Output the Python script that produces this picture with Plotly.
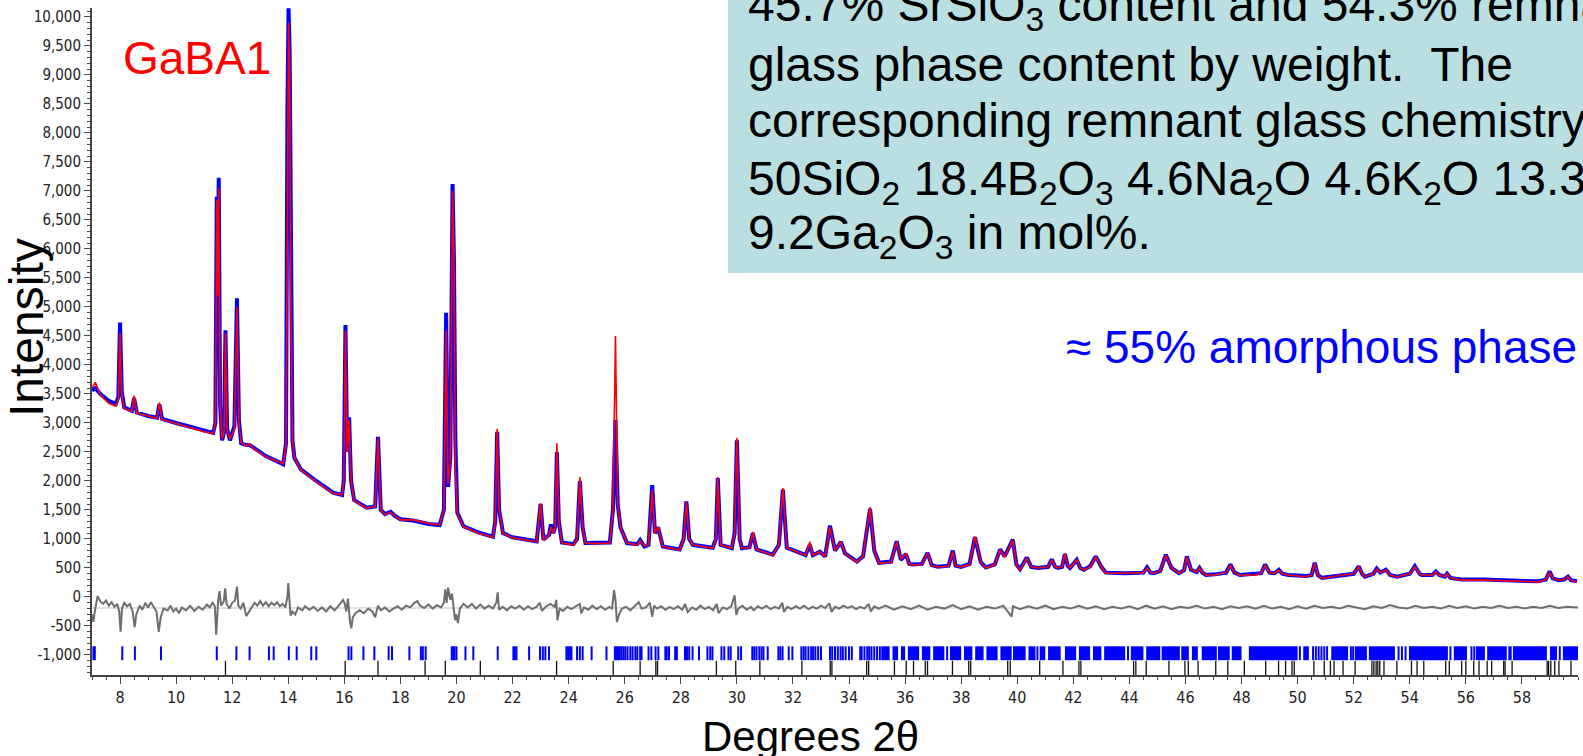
import plotly.graph_objects as go

# ---------------- data ----------------
# Rietveld profile: 2-theta positions, calculated (red) and observed (blue) intensities
two_theta = [
    7.00, 7.12, 7.30, 7.60, 7.85, 7.94, 8.00, 8.06, 8.15, 8.42, 8.50, 8.60, 9.00, 9.32, 9.40, 9.50,
    10.00, 10.50, 11.00, 11.32, 11.40, 11.45, 11.48, 11.52, 11.57, 11.64, 11.71, 11.76, 11.82, 11.92,
    12.08, 12.17, 12.24, 12.32, 12.50, 12.62, 12.75,
    13.20, 13.82, 13.92, 13.97, 14.01, 14.05, 14.09, 14.15, 14.22, 14.45, 15.00, 15.60, 15.92, 15.98,
    16.04, 16.10, 16.17, 16.24, 16.35, 16.80, 17.10, 17.20, 17.30, 17.45, 17.65, 17.80, 18.00, 18.45,
    19.00, 19.40, 19.55, 19.63, 19.70, 19.78, 19.86, 19.91, 19.96, 20.03, 20.25, 20.80,
    21.30, 21.38, 21.45, 21.52, 21.66, 22.00, 22.86, 23.00, 23.10, 23.30, 23.37, 23.45, 23.52, 23.58,
    23.65, 23.76, 24.17, 24.30, 24.40, 24.50, 24.60, 25.00, 25.47, 25.58, 25.67, 25.75, 25.85, 26.08,
    26.45, 26.55, 26.70, 26.85, 26.98, 27.08, 27.19, 27.36, 27.96, 28.10, 28.20, 28.30, 28.43,
    29.14, 29.25, 29.32, 29.42, 29.82, 29.92, 30.00, 30.10, 30.18, 30.45, 30.57, 30.70, 31.28, 31.50,
    31.64, 31.78, 32.45, 32.60, 32.71, 32.96, 33.15, 33.32, 33.50, 33.71, 33.86, 34.28, 34.50, 34.75,
    34.90, 35.07,
    35.50, 35.70, 35.85, 36.03, 36.15, 36.28, 36.60, 36.80, 36.95, 37.17, 37.55, 37.70, 37.80, 37.99,
    38.30, 38.49, 38.70, 38.88, 39.20, 39.39, 39.55, 39.84, 39.97, 40.10, 40.34, 40.50, 40.74, 41.10,
    41.23, 41.35, 41.45, 41.60, 41.70, 41.80, 41.88, 42.12, 42.25, 42.37, 42.60, 42.80, 43.00, 43.16,
    43.84, 44.50, 44.63, 44.75, 44.87, 45.10, 45.30, 45.50, 45.77, 45.95, 46.05, 46.20, 46.40, 46.50,
    46.60, 46.73, 47.05, 47.45, 47.60, 47.75, 47.94, 48.51, 48.70, 48.84, 49.00, 49.18, 49.33, 49.45,
    49.67, 50.30, 50.50, 50.61, 50.72, 50.87, 51.60, 52.00, 52.18, 52.30, 52.40, 52.70, 52.82, 52.95,
    53.15, 53.30, 53.55, 54.00, 54.18, 54.35, 54.43, 54.80, 54.93, 55.05, 55.25, 55.33, 55.45, 55.83,
    56.64, 57.44, 58.57, 58.85, 58.99, 59.10, 59.32, 59.50, 59.64, 59.75, 59.96,
]
calc_intensity = [
    3600, 3700, 3480, 3340, 3290, 3420, 4550, 3500, 3250, 3200, 3470, 3170, 3120, 3080, 3350, 3060,
    2990, 2920, 2850, 2820, 3000, 6850, 5200, 7050, 3300, 2720, 2850, 4550, 2900, 2720,
    2900, 5000, 3000, 2670, 2600, 2640, 2560,
    2420, 2300, 2600, 8300, 9900, 9100, 5300, 2700, 2400, 2190, 1990, 1790, 1760, 2000,
    4600, 2500, 3050, 2000, 1660, 1530, 1560, 2750, 1500, 1420, 1460, 1400, 1330, 1330,
    1270, 1240, 1500, 4600, 1950, 2300, 7000, 5900, 2200, 1440, 1210, 1100,
    1030, 1300, 2900, 1500, 1100, 1020, 950, 1620, 980, 1060, 1210, 1100, 1200, 2650,
    1300, 930, 900, 1000, 2070, 1200, 930, 920, 930, 1500, 4500, 1600, 1200, 930,
    900, 970, 880, 900, 1850, 1100, 1210, 870, 810, 1000, 1640, 1000, 900,
    840, 1000, 2070, 900, 840, 1100, 2740, 1000, 840, 850, 1120, 820, 720, 900,
    1880, 850, 720, 950, 720, 780, 690, 1210, 800, 950, 750, 600, 700, 1550,
    800, 580,
    600, 955, 650, 755, 560, 550, 560, 755, 540, 520, 530, 780, 540, 520,
    560, 1040, 600, 500, 560, 810, 690, 980, 560, 465, 670, 520, 500, 520,
    640, 520, 500, 520, 750, 540, 500, 640, 500, 465, 520, 690, 520, 410,
    410, 420, 500, 420, 410, 450, 720, 500, 410, 460, 690, 470, 430, 500,
    420, 380, 380, 420, 550, 420, 380, 380, 410, 550, 420, 410, 465, 400,
    380, 350, 380, 580, 380, 320, 380, 400, 520, 400, 350, 400, 480, 420,
    465, 380, 350, 400, 520, 400, 380, 380, 430, 380, 350, 400, 330, 290,
    290, 275, 260, 300, 430, 320, 290, 300, 350, 290, 260,
]
obs_intensity = [
    3560, 3600, 3500, 3380, 3330, 3450, 4730, 3550, 3270, 3210, 3430, 3180, 3120, 3090, 3320, 3070,
    3000, 2930, 2860, 2830, 3000, 6900, 4800, 7230, 3300, 2700, 2850, 4600, 2900, 2700,
    2950, 5150, 3050, 2650, 2620, 2620, 2580,
    2430, 2290, 2650, 8400, 10150, 9400, 5400, 2700, 2400, 2200, 2000, 1800, 1760, 2000,
    4690, 2500, 3100, 2000, 1670, 1540, 1560, 2760, 1500, 1430, 1470, 1400, 1340, 1320,
    1260, 1240, 1500, 4900, 1900, 2400, 7120, 5800, 2700, 1450, 1220, 1110,
    1040, 1300, 2850, 1500, 1100, 1030, 960, 1600, 990, 1070, 1250, 1100, 1200, 2500,
    1300, 940, 910, 1000, 2000, 1200, 930, 930, 940, 1500, 3050, 1600, 1200, 930,
    910, 980, 870, 900, 1930, 1100, 1200, 870, 820, 1000, 1650, 1000, 900,
    850, 1000, 2050, 900, 840, 1100, 2700, 1000, 840, 860, 1100, 820, 730, 900,
    1850, 850, 720, 900, 720, 780, 700, 1230, 800, 950, 750, 610, 700, 1520,
    800, 590,
    610, 960, 640, 740, 570, 560, 570, 760, 550, 520, 540, 800, 540, 520,
    570, 1030, 600, 510, 560, 820, 700, 990, 560, 480, 680, 520, 500, 520,
    650, 520, 500, 520, 740, 540, 500, 640, 500, 470, 530, 700, 520, 420,
    410, 420, 510, 420, 410, 450, 730, 500, 410, 460, 700, 470, 430, 500,
    420, 380, 390, 420, 560, 420, 380, 390, 410, 560, 420, 410, 470, 400,
    380, 360, 380, 590, 380, 330, 380, 400, 530, 400, 350, 400, 490, 420,
    470, 380, 350, 400, 530, 400, 380, 380, 440, 380, 350, 400, 330, 300,
    300, 285, 270, 300, 440, 320, 290, 300, 350, 290, 270,
]

# Difference curve (obs - calc, shifted) and its reference level
diff_theta = [
    7.00, 7.05, 7.10, 7.20, 7.30, 7.40, 7.50, 7.60, 7.70, 7.80, 7.90, 7.97, 8.02, 8.07, 8.15, 8.25,
    8.35, 8.45, 8.52, 8.58, 8.70, 8.80, 8.90, 9.00, 9.10, 9.20, 9.30, 9.38, 9.45, 9.55, 9.70, 9.80,
    9.90, 10.00, 10.10, 10.20, 10.35, 10.50, 10.65, 10.80, 10.95, 11.10, 11.20, 11.30, 11.38, 11.43,
    11.47, 11.50, 11.55, 11.60, 11.70, 11.75, 11.80, 11.90, 12.00, 12.10, 12.17, 12.22, 12.30, 12.40,
    12.50, 12.60, 12.70, 12.80, 12.90, 13.00, 13.10, 13.20, 13.30, 13.40, 13.50, 13.60, 13.70, 13.80,
    13.90, 13.97, 14.00, 14.04, 14.08, 14.15, 14.25, 14.35, 14.50, 14.60, 14.75, 14.90, 15.05, 15.20,
    15.35, 15.50, 15.65, 15.80, 15.95, 16.02, 16.07, 16.13, 16.20, 16.25, 16.30, 16.40, 16.55, 16.70,
    16.85, 17.00, 17.10, 17.20, 17.30, 17.45, 17.60, 17.75, 17.90, 18.05, 18.20, 18.35, 18.50, 18.60,
    18.70, 18.85, 19.00, 19.15, 19.30, 19.45, 19.55, 19.60, 19.65, 19.70, 19.78, 19.84, 19.90, 19.95,
    20.00, 20.05, 20.12, 20.25, 20.40, 20.55, 20.70, 20.85, 21.00, 21.15, 21.30, 21.42, 21.47, 21.52,
    21.65, 21.80, 21.95, 22.10, 22.25, 22.40, 22.55, 22.70, 22.85, 22.97, 23.05, 23.20, 23.35, 23.50,
    23.56, 23.60, 23.68, 23.80, 23.95, 24.10, 24.25, 24.40, 24.45, 24.55, 24.70, 24.85, 25.00, 25.15,
    25.30, 25.45, 25.55, 25.62, 25.67, 25.72, 25.80, 25.90, 26.05, 26.20, 26.35, 26.50, 26.60, 26.75,
    26.90, 26.98, 27.05, 27.15, 27.30, 27.45, 27.60, 27.75, 27.90, 28.05, 28.15, 28.25, 28.40, 28.55,
    28.70, 28.85, 29.00, 29.15, 29.28, 29.35, 29.50, 29.65, 29.80, 29.92, 29.98, 30.05, 30.20, 30.35,
    30.50, 30.60, 30.75, 30.90, 31.05, 31.20, 31.35, 31.50, 31.62, 31.68, 31.80, 31.95, 32.10, 32.25,
    32.40, 32.55, 32.70, 32.85, 33.00, 33.15, 33.30, 33.38, 33.50, 33.65, 33.80, 33.95, 34.10, 34.25,
    34.40, 34.55, 34.70, 34.78, 34.90, 35.05,
    35.30, 35.60, 35.90, 36.20, 36.50, 36.80, 37.10, 37.40, 37.70, 38.00, 38.30, 38.60, 38.90, 39.20,
    39.50, 39.80, 39.85, 40.10, 40.40, 40.70, 41.00, 41.30, 41.60, 41.90, 42.20, 42.50, 42.80, 43.10,
    43.40, 43.70, 44.00, 44.30, 44.60, 44.90, 45.20, 45.50, 45.80, 46.10, 46.40, 46.70, 47.00, 47.30,
    47.60, 47.90, 48.20, 48.50, 48.80, 49.10, 49.40, 49.70, 50.00, 50.30, 50.60, 50.90, 51.20, 51.50,
    51.80, 52.10, 52.40, 52.70, 53.00, 53.30, 53.60, 53.90, 54.20, 54.50, 54.80, 55.10, 55.40, 55.70,
    56.00, 56.30, 56.60, 56.90, 57.20, 57.50, 57.80, 58.10, 58.40, 58.70, 59.00, 59.30, 59.60, 60.00,
]
diff_intensity = [
    -300, -430, -250, 20, -80, -120, -60, -150, -90, -170, -120, -250, -600, -200, -100, -160,
    -120, -250, -520, -300, -150, -220, -100, -180, -90, -170, -250, -600, -350, -200, -230, -150,
    -250, -200, -280, -180, -230, -150, -240, -170, -220, -130, -180, -100, -160, -650,
    -300, -50, 100, -150, -80, 150, -120, -200, -100, -60, 180, -150, -200, -100,
    -330, -250, -160, -100, -150, -70, -150, -90, -160, -100, -140, -90, -160, -120,
    -180, 10, 240, -50, -320, -250, -300, -180, -230, -160, -220, -170, -240, -180,
    -250, -160, -230, -150, -50, -120, -250, -30, -420, -540, -350, -280, -230, -280,
    -200, -250, -350, -150, -230, -180, -250, -200, -160, -220, -150, -180, -100, -70,
    -150, -190, -130, -200, -140, -180, -100, 130, -100, 160, -50, 60, -200, -400,
    -300, -450, -200, -120, -180, -120, -200, -130, -200, -150, -200, -100, 80, -220,
    -170, -230, -160, -200, -150, -220, -160, -210, -170, -100, -240, -160, -120, -170,
    -50, -400, -200, -240, -170, -210, -160, -120, -280, -180, -220, -150, -210, -160,
    -220, -170, -200, 120, -50, -430, -300, -200, -170, -230, -160, -90, -200, -180,
    -100, -340, -150, -200, -160, -220, -170, -210, -160, -220, -120, -260, -180, -220,
    -150, -210, -170, -230, -120, -280, -180, -210, -160, 30, -310, -200, -150, -220,
    -170, -230, -160, -200, -150, -210, -170, -200, -100, -260, -170, -210, -160, -200,
    -150, -210, -170, -200, -150, -190, -110, -260, -170, -200, -150, -190, -160, -210,
    -170, -200, -120, -250, -160, -200,
    -150, -220, -160, -210, -150, -220, -170, -200, -140, -210, -160, -220, -170, -200,
    -150, -340, -160, -210, -160, -200, -150, -210, -170, -200, -150, -200, -160, -210,
    -170, -200, -160, -210, -150, -200, -160, -210, -170, -190, -150, -200, -170, -210,
    -160, -190, -160, -200, -150, -200, -170, -210, -160, -200, -150, -190, -170, -200,
    -150, -180, -210, -160, -190, -140, -180, -200, -150, -190, -170, -200, -150, -190,
    -160, -200, -170, -190, -150, -190, -170, -200, -170, -190, -150, -190, -170, -180,
]
diff_reference = -190

# Reflection markers: phase 1 (blue) single ticks and solid runs, phase 2 (black) ticks
phase1_ticks = [
    7.05, 7.10, 8.08, 8.53, 9.46, 11.45, 12.15, 12.62, 13.31, 13.48, 14.02, 14.30, 14.82, 15.00,
    16.15, 16.25, 16.68, 17.07, 17.58, 17.70, 18.32, 18.73, 18.80, 18.90, 19.83, 19.88, 19.93, 20.00,
    20.32, 20.60, 21.47, 22.03, 22.08, 22.14, 22.59, 22.98, 23.08, 23.17, 23.30, 23.92, 23.98, 24.05,
    24.10, 24.30, 24.40, 24.50, 24.82, 25.35, 25.65, 25.70, 25.76, 25.82, 25.88, 25.95, 26.02, 26.10,
    26.20, 26.28, 26.38, 26.45, 26.55, 26.60, 26.85, 26.95, 27.10, 27.20, 27.45, 27.50, 27.58, 27.80,
    27.86, 28.15, 28.22, 28.30, 28.42, 28.65, 28.95, 29.05, 29.13, 29.45, 29.55, 29.70, 29.78, 30.05,
    30.15, 30.55, 30.62, 30.70, 30.80, 30.88, 30.95, 31.10, 31.48, 31.55, 31.63, 31.85, 31.98, 32.30,
    32.38, 32.45, 32.55, 32.65, 32.72, 32.80, 32.90, 33.00, 33.32, 33.40, 33.50, 33.60, 33.70, 33.78,
    33.88, 34.00, 34.10, 34.40, 34.45, 34.55, 34.65, 34.72, 34.80, 34.90, 35.00, 35.10, 37.50, 40.72,
    43.95, 50.08, 50.55, 50.65, 50.75, 50.85, 50.95, 51.05, 51.90, 51.98, 53.60, 53.72, 53.85, 55.45,
    56.20, 56.30, 57.55, 57.60, 59.35,
]
phase1_run_start = [
    35.15, 35.55, 35.85, 36.10, 36.60, 37.00, 37.60, 38.10, 38.50, 38.90, 39.40, 39.85, 40.40, 40.80,
    41.10, 41.70, 42.20, 42.70, 43.10, 44.05, 44.60, 45.15, 45.85, 46.23, 46.58, 47.16, 47.65, 48.26,
    50.20, 51.20, 52.04, 52.54, 53.97, 55.57, 56.36, 56.76, 57.68, 59.00, 59.46,
]
phase1_run_end = [
    35.45, 35.75, 36.00, 36.50, 36.90, 37.40, 38.00, 38.40, 38.80, 39.30, 39.80, 40.30, 40.65, 41.00,
    41.55, 42.10, 42.60, 43.00, 43.85, 44.50, 45.10, 45.80, 46.12, 46.44, 47.12, 47.58, 48.00, 50.00,
    50.40, 51.80, 52.47, 53.47, 55.36, 56.04, 56.68, 57.46, 58.89, 59.25, 60.00,
]
phase2_ticks = [
    11.76, 16.03, 17.20, 18.88, 19.60, 20.85, 23.57, 25.59, 26.55, 27.11, 27.17, 29.27, 29.96, 30.82,
    32.32, 33.33, 33.39, 34.63, 34.70, 35.62, 36.04, 36.30, 36.72, 36.80, 37.69, 38.27, 38.34, 39.66,
    39.75, 40.80, 41.63, 42.20, 42.27, 44.15, 44.23, 44.60, 45.41, 45.98, 46.10, 46.45, 47.08, 47.51,
    48.10, 48.86, 49.32, 49.57, 49.80, 49.88, 50.58, 50.95, 51.17, 51.30, 51.62, 52.05, 52.65, 52.72,
    52.80, 52.86, 52.93, 53.08, 53.54, 54.06, 54.26, 54.50, 55.28, 55.41, 55.85, 56.00, 56.28, 56.47,
    56.76, 56.92, 57.35, 57.40, 57.65, 58.90, 58.95, 59.03, 59.17, 59.32, 59.75,
]

x_tick_values = [8, 10, 12, 14, 16, 18, 20, 22, 24, 26, 28, 30, 32, 34, 36, 38, 40, 42, 44, 46,
                 48, 50, 52, 54, 56, 58]
x_tick_labels = ["8", "10", "12", "14", "16", "18", "20", "22", "24", "26", "28", "30", "32",
                 "34", "36", "38", "40", "42", "44", "46", "48", "50", "52", "54", "56", "58"]
y_tick_values = [-1000, -500, 0, 500, 1000, 1500, 2000, 2500, 3000, 3500, 4000, 4500, 5000,
                 5500, 6000, 6500, 7000, 7500, 8000, 8500, 9000, 9500, 10000]
y_tick_labels = ["-1,000", "-500", "0", "500", "1,000", "1,500", "2,000", "2,500", "3,000",
                 "3,500", "4,000", "4,500", "5,000", "5,500", "6,000", "6,500", "7,000", "7,500",
                 "8,000", "8,500", "9,000", "9,500", "10,000"]

assert len(two_theta) == len(calc_intensity) == len(obs_intensity)
assert len(diff_theta) == len(diff_intensity)
assert len(phase1_run_start) == len(phase1_run_end)

# ---------------- figure ----------------
W, H = 1583, 756
L, R, T, B = 92, 5, 8, 81
PW, PH = W - L - R, H - T - B


def px_x(X):
    return (X - L) / PW


def px_y(Y):
    return (H - B - Y) / PH


NARROW = "Liberation Sans Narrow, Arial Narrow, DejaVu Sans Condensed, sans-serif"
ARIAL = "Liberation Sans, Arial, Helvetica, sans-serif"

fig = go.Figure()

fig.add_trace(go.Scatter(x=two_theta, y=obs_intensity, mode="lines",
                         line=dict(color="#0000ff", width=4), hoverinfo="skip"))
fig.add_trace(go.Scatter(x=two_theta, y=calc_intensity, mode="lines",
                         line=dict(color="#ff0000", width=1.6), hoverinfo="skip"))
fig.add_trace(go.Scatter(x=[7, 60], y=[diff_reference, diff_reference], mode="lines",
                         line=dict(color="#c4c4c4", width=1.2), hoverinfo="skip"))
fig.add_trace(go.Scatter(x=diff_theta, y=diff_intensity, mode="lines",
                         line=dict(color="#6e6e6e", width=2), hoverinfo="skip"))

# blue reflection ticks
bx, by = [], []
for t in phase1_ticks:
    bx += [t, t, None]
    by += [-850, -1090, None]
fig.add_trace(go.Scatter(x=bx, y=by, mode="lines", line=dict(color="#0000ff", width=2),
                         hoverinfo="skip"))
fig.add_trace(go.Bar(x=[(s + e) / 2 for s, e in zip(phase1_run_start, phase1_run_end)],
                     y=[240] * len(phase1_run_start), base=-1090,
                     width=[e - s for s, e in zip(phase1_run_start, phase1_run_end)],
                     marker=dict(color="#0000ff", line=dict(width=0)), hoverinfo="skip"))
# black reflection ticks
kx, ky = [], []
for t in phase2_ticks:
    kx += [t, t, None]
    ky += [-1100, -1345, None]
fig.add_trace(go.Scatter(x=kx, y=ky, mode="lines", line=dict(color="#111111", width=1.3),
                         hoverinfo="skip"))

axis_color = "#454545"
fig.update_layout(
    width=W, height=H,
    margin=dict(l=L, r=R, t=T, b=B, pad=0),
    paper_bgcolor="white", plot_bgcolor="white",
    showlegend=False, hovermode=False, barmode="overlay",
    xaxis=dict(range=[7, 60], showgrid=False, zeroline=False,
               showline=True, linecolor=axis_color, linewidth=2,
               ticks="outside", ticklen=7, tickwidth=1.3, tickcolor=axis_color,
               tickvals=x_tick_values, ticktext=x_tick_labels,
               tickfont=dict(family=NARROW, size=16, color="#222222"),
               minor=dict(dtick=0.5, tick0=7, ticks="outside", ticklen=3,
                          tickcolor=axis_color, tickwidth=1)),
    yaxis=dict(range=[-1345, 10155], showgrid=False, zeroline=False,
               showline=True, linecolor=axis_color, linewidth=2,
               ticks="outside", ticklen=6, tickwidth=1.3, tickcolor=axis_color,
               tickvals=y_tick_values, ticktext=y_tick_labels,
               tickfont=dict(family=NARROW, size=15, color="#222222"),
               minor=dict(dtick=100, tick0=0, ticks="outside", ticklen=3,
                          tickcolor=axis_color, tickwidth=1)),
)

# info box
fig.add_shape(type="rect", xref="paper", yref="paper",
              x0=px_x(728), x1=px_x(W + 10), y0=px_y(273), y1=px_y(-10),
              fillcolor="#badfe3", line=dict(width=0), layer="above")

BOX_FS = 48
box_lines = [
    ("45.7% SrSiO<sub>3</sub> content and 54.3% remnant", 20),
    ("glass phase content by weight.\u00a0 The", 80),
    ("corresponding remnant glass chemistry is", 136),
    ("50SiO<sub>2</sub> 18.4B<sub>2</sub>O<sub>3</sub> 4.6Na<sub>2</sub>O 4.6K<sub>2</sub>O 13.3SrO", 194),
    ("9.2Ga<sub>2</sub>O<sub>3</sub> in mol%.", 248),
]
for txt, base in box_lines:
    fig.add_annotation(xref="paper", yref="paper", x=px_x(746), y=px_y(base - 0.905 * BOX_FS - 1),
                       xanchor="left", yanchor="top", showarrow=False, text=txt,
                       font=dict(family=ARIAL, size=BOX_FS, color="black"))

fig.add_annotation(xref="paper", yref="paper", x=px_x(121), y=px_y(73 - 0.905 * 46 - 1),
                   xanchor="left", yanchor="top", showarrow=False, text="GaBA1",
                   font=dict(family=ARIAL, size=46, color="#ff0000"))
fig.add_annotation(xref="paper", yref="paper", x=px_x(1064), y=px_y(362 - 0.905 * 46 - 1),
                   xanchor="left", yanchor="top", showarrow=False,
                   text="\u2248 55% amorphous phase",
                   font=dict(family=ARIAL, size=46, color="#0000ff"))
fig.add_annotation(xref="paper", yref="paper", x=px_x(26), y=px_y(328),
                   xanchor="center", yanchor="middle", showarrow=False, text="Intensity",
                   textangle=-90, font=dict(family=ARIAL, size=48, color="black"))
fig.add_annotation(xref="paper", yref="paper", x=px_x(810), y=px_y(750 - 0.905 * 42 - 1),
                   xanchor="center", yanchor="top", showarrow=False, text="Degrees 2\u03b8",
                   font=dict(family=ARIAL, size=42, color="black"))

fig.write_html("out.html", config={"displayModeBar": False},
               post_script="document.body.style.margin='0';document.body.style.overflow='hidden';")
